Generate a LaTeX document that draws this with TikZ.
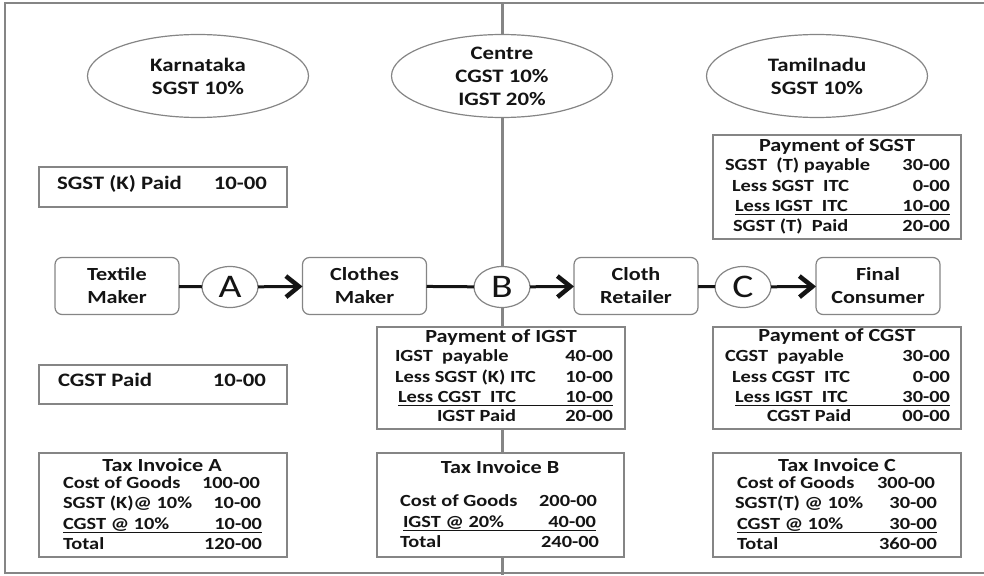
\documentclass[tikz,border=0pt]{standalone}
\usepackage{fontspec}
\setmainfont{Carlito}[FakeStretch=1.2]
\usetikzlibrary{shapes.geometric,arrows.meta}
\definecolor{edge}{HTML}{858585}
\definecolor{ink}{HTML}{141414}
\newcommand\rowpair[6]{%
  \node[rowtxt, anchor=mid west] (#1l) at (#2,#4) {#5};
  \node[rowtxt, anchor=mid east] (#1r) at (#3,#4) {#6};}
\newcommand\ulrow[1]{%
  \draw[uline] ([yshift=-3.5pt]#1l.base west) -- ([yshift=-3.5pt]#1r.base east);}
\begin{document}
\begin{tikzpicture}[x=1pt,y=-1pt,
  every node/.style={text=ink, inner sep=0pt, outer sep=0pt},
  state/.style={ellipse, draw=edge, line width=1.2pt, fill=white,
    minimum width=221pt, minimum height=83pt, align=center,
    font=\bfseries\fontsize{19}{23}\selectfont},
  tbox/.style={draw=edge, line width=1.4pt, fill=white},
  proc/.style={draw=edge, rounded corners=7pt, line width=1.2pt, fill=white,
    minimum width=124pt, minimum height=57pt, align=center,
    font=\bfseries\fontsize{18.5}{23}\selectfont},
  stage/.style={ellipse, draw=edge, line width=1.2pt, fill=white,
    minimum width=56pt, minimum height=41pt, font=\fontsize{33}{33}\selectfont},
  flow/.style={line width=3pt, draw=ink},
  flowarrow/.style={flow, -{Straight Barb[length=13pt,width=21pt,line width=4.5pt 0]}},
  rowtxt/.style={font=\bfseries\fontsize{17}{20}\selectfont},
  onetxt/.style={font=\bfseries\fontsize{19}{22}\selectfont},
  titletxt/.style={font=\bfseries\fontsize{18.5}{22}\selectfont},
  uline/.style={draw=ink, line width=1.2pt},
  rule/.style={draw=edge, line width=2pt},
  divider/.style={draw=edge, line width=3pt}]
\useasboundingbox (0,0) rectangle (984,575);
% frame
\coordinate (ftr) at (984,3);
\coordinate (ftl) at (5,3);
\coordinate (fbl) at (5,573);
\coordinate (fbr) at (984,573);
\draw[rule] (ftr) -- (ftl) -- (fbl) -- (fbr);
% divider
\coordinate (dtop) at (502,3);
\coordinate (dbot) at (502,575);
\draw[divider] (dtop) -- (dbot);
% states
\node[state] (kar) at (198,76) {Karnataka\\SGST 10\%};
\node[state] (cen) at (502,76) {Centre\\CGST 10\%\\IGST 20\%};
\node[state] (tam) at (817,76) {Tamilnadu\\SGST 10\%};
% process row
\node[proc] (tex) at (117,286) {Textile\\Maker};
\node[proc] (clo) at (364.5,286) {Clothes\\Maker};
\node[proc] (ret) at (636,286) {Cloth\\Retailer};
\node[proc] (fin) at (878,286) {Final\\Consumer};
\node[stage] (sa) at (230,287) {A};
\node[stage] (sb) at (502,287) {B};
\node[stage] (sc) at (743,287) {C};
\draw[flow] (tex) -- (sa);
\draw[flowarrow] (sa) -- (clo);
\draw[flow] (clo) -- (sb);
\draw[flowarrow] (sb) -- (ret);
\draw[flow] (ret) -- (sc);
\draw[flowarrow] (sc) -- (fin);
% left single boxes
\node[tbox, minimum width=248pt, minimum height=40pt] (skp) at (163,187) {};
\node[onetxt, anchor=mid west] (skpl) at (57,187) {SGST (K) Paid};
\node[onetxt, anchor=mid east] (skpr) at (267,187) {10-00};
\node[tbox, minimum width=248pt, minimum height=39pt] (cgp) at (163,384.5) {};
\node[onetxt, anchor=mid west] (cgpl) at (58,384.5) {CGST Paid};
\node[onetxt, anchor=mid east] (cgpr) at (266,384.5) {10-00};
% Tax Invoice A
\node[tbox, minimum width=248pt, minimum height=104pt] (tia) at (163,505) {};
\node[titletxt] (tiat) at (162,465) {Tax Invoice A};
\rowpair{ia1}{63}{260}{486}{Cost of Goods}{100-00}
\rowpair{ia2}{63}{261}{506}{SGST (K)@ 10\%}{10-00}
\rowpair{ia3}{63}{262}{527}{CGST @ 10\%}{10-00}
\ulrow{ia3}
\rowpair{ia4}{63}{262}{547}{Total}{120-00}
% Payment of SGST
\node[tbox, minimum width=248pt, minimum height=104pt] (psg) at (837,187) {};
\node[titletxt] (psgt) at (837,147) {Payment of SGST};
\rowpair{ps1}{725}{950}{168}{SGST\ \ (T) payable}{30-00}
\rowpair{ps2}{732}{950}{189}{Less SGST\ \ ITC}{0-00}
\rowpair{ps3}{735}{950}{209}{Less IGST\ \ ITC}{10-00}
\ulrow{ps3}
\rowpair{ps4}{733}{950}{229}{SGST (T)\ \ Paid}{20-00}
% Payment of IGST
\node[tbox, minimum width=248pt, minimum height=102pt] (pig) at (501,378) {};
\node[titletxt] (pigt) at (501,338) {Payment of IGST};
\rowpair{pi1}{395}{613}{359}{IGST\ \ payable}{40-00}
\rowpair{pi2}{395}{613}{380}{Less SGST (K) ITC}{10-00}
\rowpair{pi3}{398}{613}{400}{Less CGST\ \ ITC}{10-00}
\ulrow{pi3}
\rowpair{pi4}{437}{613}{419}{IGST Paid}{20-00}
% Tax Invoice B
\node[tbox, minimum width=247pt, minimum height=104pt] (tib) at (500.5,505) {};
\node[titletxt] (tibt) at (500,467) {Tax Invoice B};
\rowpair{ib1}{400}{597}{504}{Cost of Goods}{200-00}
\rowpair{ib2}{403}{596}{525}{IGST @ 20\%}{40-00}
\ulrow{ib2}
\rowpair{ib3}{400}{599}{545}{Total}{240-00}
% Payment of CGST
\node[tbox, minimum width=248pt, minimum height=102pt] (pcg) at (837,378) {};
\node[titletxt] (pcgt) at (837,337) {Payment of CGST};
\rowpair{pc1}{725}{950}{359}{CGST\ \ payable}{30-00}
\rowpair{pc2}{732}{950}{380}{Less CGST\ \ ITC}{0-00}
\rowpair{pc3}{735}{950}{400}{Less IGST\ \ ITC}{30-00}
\ulrow{pc3}
\rowpair{pc4}{767}{950}{419}{CGST Paid}{00-00}
% Tax Invoice C
\node[tbox, minimum width=248pt, minimum height=104pt] (tic) at (837,505) {};
\node[titletxt] (tict) at (837,465) {Tax Invoice C};
\rowpair{ic1}{737}{935}{486}{Cost of Goods}{300-00}
\rowpair{ic2}{735}{937}{506}{SGST(T) @ 10\%}{30-00}
\rowpair{ic3}{737}{937}{527}{CGST @ 10\%}{30-00}
\ulrow{ic3}
\rowpair{ic4}{737}{937}{547}{Total}{360-00}
\end{tikzpicture}
\end{document}
